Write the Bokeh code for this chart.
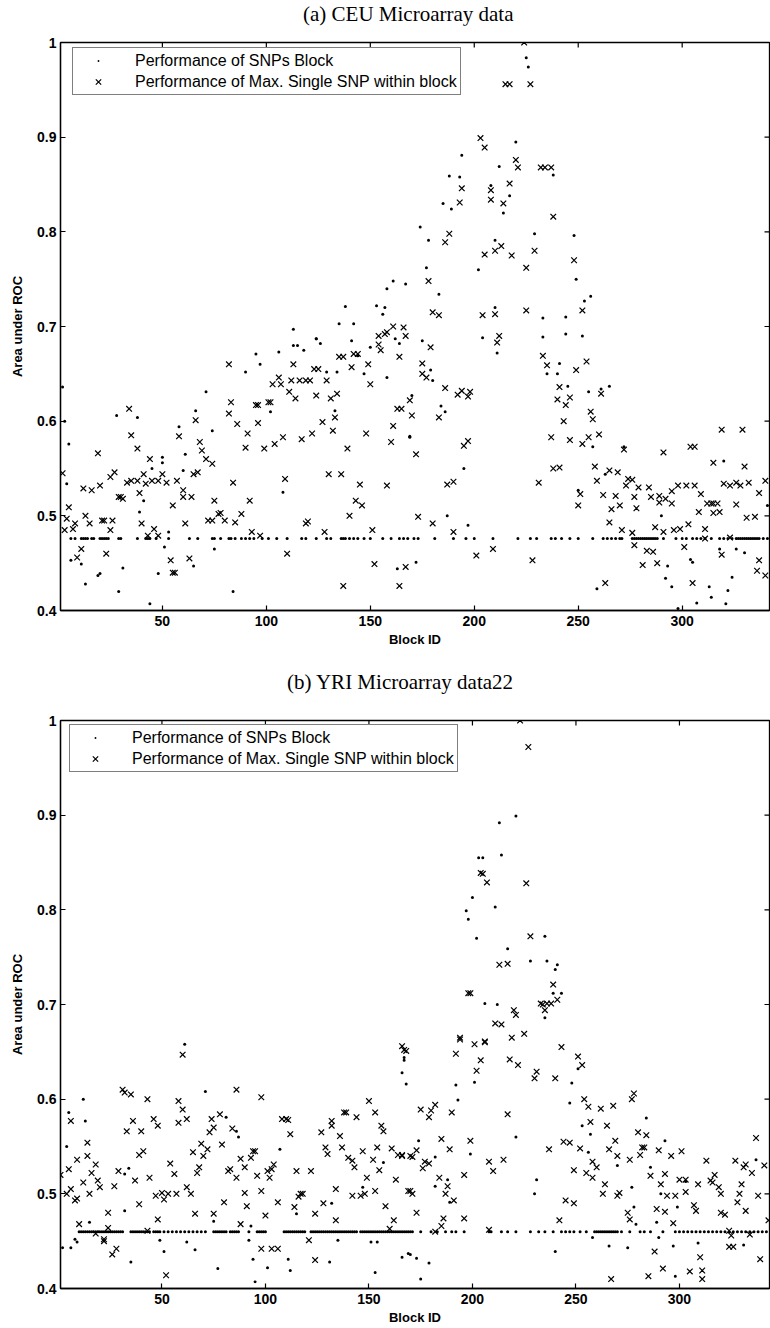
import math
from bokeh.plotting import figure
from bokeh.layouts import column
from bokeh.models import Range1d, FixedTicker, Legend, LegendItem, Div
from bokeh.embed import file_html
from bokeh.resources import INLINE

# ---------------- (a) CEU ----------------
ceu_block_ids = [2,3,5,4,6,11,13,19,20,29,31,44,48,65,84,28,38,39,41,45,50,50,51,53,58,60,61,66,71,74,75,
                 90,95,97,102,106,108,113,115,118,124,126,129,133,134,141,144,147,150,158,162,164,163,169,
                 113,124,135,138,142,153,157,156,158,161,167,
                 224,225,226,220,194,212,238,188,193,208,185,189,217,214,174,178,210,229,248,202,177,183,249,253,256,210,233,244,
                 175,204,211,233,244,252,179,180,170,184,186,241,235,240,245,255,261,265,169,195,187,197,172,257,250,263,
                 259,272,290,292,295,293,304,305,307,298,313,314,318,320,321,322,324,326,330,341]
ceu_block_auc = [0.636,0.60,0.576,0.534,0.453,0.449,0.428,0.437,0.439,0.42,0.445,0.407,0.439,0.447,0.42,0.606,0.604,0.504,0.516,0.55,0.562,0.556,0.467,0.483,0.594,0.548,0.565,0.611,0.631,0.59,0.465,
                 0.652,0.671,0.66,0.61,0.673,0.525,0.68,0.68,0.675,0.687,0.682,0.652,0.611,0.652,0.685,0.669,0.65,0.678,0.646,0.687,0.682,0.444,0.583,
                 0.697,0.687,0.703,0.721,0.703,0.722,0.72,0.713,0.74,0.748,0.745,
                 1.0,0.984,0.974,0.895,0.881,0.869,0.86,0.859,0.858,0.849,0.83,0.824,0.838,0.82,0.805,0.791,0.791,0.798,0.796,0.76,0.762,0.734,0.75,0.727,0.732,0.72,0.709,0.71,
                 0.685,0.688,0.672,0.689,0.692,0.69,0.654,0.643,0.627,0.616,0.61,0.661,0.65,0.65,0.637,0.631,0.634,0.637,0.584,0.55,0.50,0.49,0.451,0.573,0.527,0.544,
                 0.423,0.573,0.50,0.434,0.425,0.447,0.454,0.451,0.408,0.402,0.425,0.414,0.465,0.558,0.407,0.421,0.435,0.465,0.461,0.511]
ceu_base_ids = [6,8,11,12,13,14,16,17,20,21,22,23,24,29,30,38,42,43,44,47,53,63,67,74,75,78,82,83,85,88,90,92,94,98,101,
                105,110,117,119,124,129,131,136,137,138,140,142,144,147,150,156,160,164,166,168,171,173,181,190,196,200,209,
                221,227,230,237,239,242,246,250,257,262,264,266,268,270,271,276,277,278,279,280,281,282,283,284,285,286,287,288,
                291,297,300,302,305,307,309,311,314,318,320,322,324,326,327,328,329,330,331,332,333,334,335,336,337,339,341]
ceu_base_auc = 0.476

ceu_snp_ids = [2,5,4,3,7,8,9,11,12,13,15,16,19,20,21,22,23,25,25,26,27,29,30,31,33,35,34,35,38,38,39,40,41,42,43,44,45,46,48,48,
               50,52,54,55,56,55,57,58,60,60,61,63,64,66,65,67,68,69,71,74,75,72,74,77,78,80,82,84,83,82,86,85,88,90,91,92,93,95,96,96,97,
               99,101,102,103,104,106,107,108,109,110,111,113,112,114,116,117,119,119,120,121,122,123,125,124,127,128,129,130,131,132,133,
               134,135,136,137,137,139,140,141,142,144,143,145,146,148,149,150,151,152,154,154,155,157,158,160,161,163,164,164,167,
               158,161,167,
               224,215,217,227,203,205,220,221,232,234,237,194,208,217,193,208,214,238,186,188,205,210,213,218,229,248,225,178,180,183,204,210,225,252,166,212,
               179,175,175,177,186,192,194,197,198,169,165,170,183,172,195,197,187,190,173,180,190,201,209,211,233,235,249,254,241,240,246,244,243,256,257,261,
               237,246,252,255,260,231,238,241,250,251,258,259,262,265,269,268,266,270,265,272,274,276,273,277,278,279,284,285,291,271,276,277,283,286,281,288,
               287,291,289,289,292,295,295,298,302,306,309,296,299,303,301,304,306,308,312,314,315,315,318,317,311,311,319,315,319,329,330,320,323,326,328,332,
               340,326,323,331,335,337,337,336,340,305,263,228]
ceu_snp_auc = [0.545,0.509,0.497,0.485,0.486,0.492,0.456,0.465,0.529,0.50,0.492,0.527,0.566,0.532,0.495,0.495,0.46,0.485,0.541,0.495,0.546,0.52,0.52,0.518,0.535,0.537,0.613,0.585,0.537,0.571,0.524,0.492,0.544,0.534,0.479,0.56,0.537,0.486,0.537,0.479,
               0.544,0.535,0.453,0.44,0.44,0.511,0.537,0.584,0.527,0.52,0.492,0.455,0.52,0.601,0.544,0.546,0.578,0.569,0.56,0.555,0.516,0.495,0.495,0.502,0.503,0.495,0.66,0.535,0.62,0.608,0.597,0.493,0.502,0.572,0.587,0.516,0.483,0.617,0.617,0.598,0.479,
               0.571,0.62,0.62,0.639,0.576,0.646,0.639,0.583,0.539,0.46,0.631,0.66,0.643,0.624,0.643,0.581,0.643,0.492,0.494,0.643,0.587,0.655,0.655,0.627,0.599,0.483,0.643,0.544,0.624,0.59,0.604,
               0.629,0.668,0.544,0.426,0.668,0.571,0.50,0.657,0.671,0.671,0.516,0.533,0.511,0.587,0.66,0.639,0.485,0.449,0.681,0.69,0.675,0.692,0.532,0.578,0.595,0.613,0.668,0.426,0.446,
               0.694,0.70,0.69,
               1.0,0.956,0.956,0.956,0.899,0.889,0.876,0.868,0.868,0.868,0.868,0.846,0.844,0.851,0.831,0.834,0.83,0.816,0.789,0.798,0.776,0.78,0.785,0.775,0.78,0.77,0.762,0.748,0.715,0.712,0.712,0.713,0.717,0.717,0.699,0.69,
               0.678,0.661,0.65,0.646,0.635,0.628,0.632,0.626,0.631,0.622,0.613,0.606,0.604,0.565,0.574,0.579,0.533,0.536,0.499,0.492,0.483,0.458,0.465,0.683,0.669,0.659,0.654,0.663,0.636,0.623,0.625,0.617,0.60,0.61,0.602,0.629,
               0.583,0.58,0.576,0.583,0.586,0.535,0.55,0.551,0.511,0.523,0.552,0.537,0.522,0.548,0.546,0.521,0.507,0.511,0.493,0.57,0.539,0.538,0.532,0.52,0.508,0.53,0.53,0.52,0.567,0.485,0.482,0.469,0.463,0.462,0.448,0.45,
               0.488,0.483,0.514,0.521,0.518,0.513,0.526,0.532,0.532,0.532,0.523,0.485,0.486,0.491,0.467,0.573,0.573,0.504,0.513,0.513,0.513,0.503,0.504,0.513,0.486,0.476,0.459,0.556,0.591,0.591,0.552,0.534,0.532,0.535,0.532,0.535,
               0.537,0.512,0.477,0.498,0.499,0.524,0.453,0.442,0.437,0.429,0.429,0.453]

# ---------------- (b) YRI ----------------
yri_block_ids = [2,4,5,6,8,9,12,13,15,32,32,34,35,49,51,62,66,71,75,77,81,86,87,92,93,94,95,101,107,111,112,115,131,132,135,147,151,153,154,157,166,166,167,168,170,61,
                 167,192,193,201,221,248,247,251,253,257,256,270,284,293,286,277,278,279,275,266,258,199,174,182,182,188,189,169,173,179,175,240,231,230,290,297,298,289,291,299,303,309,331,337,
                 223,221,213,203,205,214,200,197,198,211,202,235,217,228,236,241,240,206,212,239,243,235]
yri_block_auc = [0.443,0.55,0.586,0.443,0.452,0.449,0.60,0.577,0.47,0.482,0.521,0.527,0.428,0.451,0.439,0.449,0.441,0.608,0.471,0.421,0.581,0.566,0.56,0.451,0.466,0.431,0.407,0.422,0.547,0.431,0.419,0.479,0.428,0.49,0.451,0.507,0.449,0.417,0.449,0.533,0.433,0.628,0.641,0.616,0.436,0.658,
                 0.644,0.615,0.599,0.618,0.56,0.617,0.596,0.632,0.572,0.563,0.544,0.53,0.58,0.556,0.528,0.507,0.486,0.468,0.443,0.445,0.454,0.542,0.556,0.539,0.508,0.515,0.491,0.437,0.432,0.427,0.41,0.439,0.515,0.50,0.454,0.445,0.413,0.47,0.50,0.486,0.513,0.448,0.446,0.536,
                 1.0,0.899,0.892,0.855,0.855,0.858,0.813,0.799,0.79,0.803,0.77,0.772,0.759,0.746,0.746,0.742,0.737,0.701,0.70,0.712,0.712,0.686]
yri_base_ids = [10,11,12,13,14,15,16,17,18,19,20,21,22,23,24,25,26,27,28,29,30,31,35,36,37,38,39,40,41,42,43,44,46,47,48,49,
                51,53,55,57,59,61,63,65,67,69,71,75,76,77,78,79,80,81,83,84,85,86,87,92,96,97,98,99,100,
                109,110,111,112,113,114,115,116,117,118,119,122,123,124,125,126,127,128,129,130,131,132,133,134,135,136,137,138,139,
                140,141,142,143,144,146,147,148,149,150,151,152,153,154,155,156,157,158,159,160,161,162,163,164,165,166,167,168,169,170,
                171,175,180,183,187,190,192,196,208,209,214,217,221,228,232,235,239,243,245,247,249,252,255,
                259,260,261,262,263,264,265,266,267,268,269,270,272,276,281,283,286,292,
                298,300,302,304,306,308,310,312,314,316,318,320,322,324,326,328,330,332,334,336,338,340,342]
yri_base_auc = 0.46

yri_snp_ids = [1,4,5,6,6,8,9,10,9,12,14,14,15,16,18,18,19,20,22,22,24,24,26,28,27,29,31,32,33,35,36,37,39,39,41,40,43,43,44,46,47,48,48,50,51,52,53,54,56,57,58,58,60,60,
               62,62,64,65,66,67,68,69,70,72,73,74,75,75,78,79,80,82,83,84,86,86,88,88,90,91,90,93,94,95,96,98,98,100,101,102,103,104,98,103,106,106,108,110,111,112,
               114,115,116,118,117,121,122,124,124,128,127,129,130,132,132,134,134,136,137,138,139,140,142,142,143,144,147,146,148,149,150,152,153,153,154,155,156,157,
               158,160,161,162,163,164,166,166,167,170,170,
               168,192,194,201,206,204,202,219,225,218,222,230,231,240,243,251,253,175,179,180,182,190,217,254,256,257,262,268,265,277,278,185,189,199,166,171,173,177,179,
               176,184,188,187,191,196,169,171,173,186,185,182,196,208,210,215,208,237,244,247,252,249,255,258,260,258,245,249,242,264,263,266,269,270,271,270,276,275,276,
               280,282,283,281,284,286,289,291,293,294,293,290,296,298,297,301,300,303,303,288,285,292,305,311,311,310,267,307,308,309,313,316,315,317,319,320,322,320,
               324,325,324,326,327,330,329,328,332,331,332,335,334,337,338,339,341,343,
               223,227,204,205,207,226,228,213,217,239,198,199,220,221,233,234,236,238,241,235,211,214,194,206]
yri_snp_auc = [0.52,0.50,0.526,0.577,0.505,0.493,0.495,0.468,0.536,0.512,0.54,0.554,0.50,0.522,0.458,0.531,0.514,0.507,0.452,0.45,0.48,0.464,0.436,0.442,0.508,0.524,0.61,0.607,0.566,0.605,0.577,0.514,0.541,0.489,0.545,0.566,0.60,0.461,0.517,0.579,0.498,0.572,0.473,0.501,0.494,0.414,0.50,0.532,0.521,0.50,0.575,0.598,0.589,0.647,
               0.579,0.507,0.50,0.544,0.479,0.522,0.528,0.553,0.54,0.547,0.565,0.579,0.57,0.479,0.584,0.552,0.491,0.524,0.526,0.569,0.61,0.517,0.468,0.537,0.501,0.487,0.528,0.538,0.545,0.545,0.519,0.602,0.503,0.477,0.524,0.517,0.526,0.531,0.442,0.442,0.442,0.491,0.579,0.579,0.578,0.563,
               0.486,0.524,0.497,0.50,0.50,0.451,0.524,0.43,0.479,0.49,0.565,0.549,0.542,0.577,0.572,0.505,0.472,0.561,0.549,0.586,0.586,0.538,0.535,0.498,0.528,0.581,0.545,0.498,0.50,0.517,0.598,0.536,0.503,0.586,0.549,0.525,0.572,0.566,
               0.487,0.463,0.548,0.472,0.515,0.541,0.541,0.656,0.652,0.503,0.54,
               0.651,0.648,0.663,0.658,0.66,0.641,0.63,0.665,0.669,0.642,0.636,0.622,0.629,0.622,0.655,0.645,0.636,0.589,0.581,0.588,0.594,0.586,0.584,0.60,0.592,0.576,0.59,0.593,0.572,0.60,0.606,0.558,0.547,0.556,0.54,0.539,0.546,0.534,0.532,
               0.527,0.517,0.508,0.50,0.493,0.52,0.503,0.50,0.48,0.474,0.466,0.46,0.474,0.534,0.524,0.536,0.462,0.547,0.555,0.554,0.548,0.525,0.522,0.517,0.528,0.534,0.493,0.49,0.472,0.51,0.50,0.547,0.556,0.54,0.501,0.498,0.536,0.48,0.473,
               0.565,0.549,0.549,0.541,0.562,0.519,0.484,0.51,0.481,0.498,0.521,0.546,0.54,0.498,0.469,0.545,0.515,0.502,0.515,0.439,0.413,0.421,0.418,0.419,0.41,0.433,0.41,0.488,0.482,0.51,0.535,0.512,0.514,0.52,0.507,0.50,0.478,0.48,
               0.461,0.456,0.444,0.444,0.535,0.51,0.50,0.491,0.482,0.528,0.531,0.522,0.457,0.559,0.498,0.431,0.53,0.472,
               1.0,0.972,0.839,0.838,0.829,0.828,0.772,0.742,0.743,0.721,0.712,0.712,0.694,0.689,0.701,0.70,0.701,0.701,0.705,0.694,0.68,0.679,0.665,0.661]

x_ticks = [50, 100, 150, 200, 250, 300]
y_ticks = [0.4, 0.5, 0.6, 0.7, 0.8, 0.9, 1.0]
y_labels = {0.4: "0.4", 0.5: "0.5", 0.6: "0.6", 0.7: "0.7", 0.8: "0.8", 0.9: "0.9", 1.0: "1"}
legend_labels = ["Performance of SNPs Block", "Performance of Max. Single SNP within block"]
titles = ["(a) CEU Microarray data", "(b) YRI Microarray data22"]

SANS = "Liberation Sans"
SERIF = "Liberation Serif"


def caption(text, height, pad_left, pad_top):
    return Div(text=text, width=770, height=height, margin=(0, 0, 0, 0),
               styles={"font-family": SERIF, "font-size": "21px", "line-height": "21px",
                       "color": "black", "padding-left": f"{pad_left}px", "padding-top": f"{pad_top}px",
                       "box-sizing": "border-box", "white-space": "nowrap"})


def make_panel(blk_x, blk_y, base_ids, base_val, snp_x, snp_y,
               xmax, left, top, bottom, fig_h, leg_x, leg_y):
    p = figure(width=770, height=fig_h, output_backend="svg", toolbar_location=None,
               x_range=Range1d(1, xmax), y_range=Range1d(0.4, 1.0),
               min_border_left=left, min_border_right=1, min_border_top=top,
               min_border_bottom=bottom, background_fill_color="white",
               border_fill_color="white", outline_line_color="black", outline_line_width=1.3,
               margin=(0, 0, 0, 0))
    p.grid.visible = False

    xs = list(blk_x) + list(base_ids)
    ys = list(blk_y) + [base_val] * len(base_ids)
    r_dot = p.scatter(xs, ys, marker="dot", size=12, line_color="black", fill_color="black")
    r_x = p.scatter(snp_x, snp_y, marker="x", size=8, line_color="black", line_width=1.2)

    # inward ticks on the top and right frame edges (MATLAB box style)
    p.ray(x=x_ticks, y=[1.0] * len(x_ticks), length=5, length_units="screen",
          angle=-math.pi / 2, line_color="black", line_width=1.2)
    p.ray(x=[xmax] * len(y_ticks), y=y_ticks, length=5, length_units="screen",
          angle=math.pi, line_color="black", line_width=1.2)

    for ax in list(p.xaxis) + list(p.yaxis):
        ax.axis_line_color = "black"
        ax.axis_line_width = 1.3
        ax.major_tick_line_color = "black"
        ax.major_tick_line_width = 1.2
        ax.major_tick_in = 5
        ax.major_tick_out = 0
        ax.minor_tick_line_color = None
        ax.major_label_text_font = SANS
        ax.major_label_text_font_style = "bold"
        ax.major_label_text_font_size = "14px"
        ax.major_label_text_color = "black"
        ax.axis_label_text_font = SANS
        ax.axis_label_text_font_size = "13px"
        ax.axis_label_text_font_style = "bold"
        ax.axis_label_text_color = "black"
    p.xaxis.ticker = FixedTicker(ticks=x_ticks)
    p.yaxis.ticker = FixedTicker(ticks=y_ticks)
    p.yaxis.major_label_overrides = y_labels
    p.xaxis.axis_label = "Block ID"
    p.yaxis.axis_label = "Area under ROC"
    p.xaxis.major_label_standoff = 5
    p.xaxis.axis_label_standoff = 3
    p.yaxis.major_label_standoff = 4
    p.yaxis.axis_label_standoff = 9

    legend = Legend(items=[LegendItem(label=legend_labels[0], renderers=[r_dot]),
                           LegendItem(label=legend_labels[1], renderers=[r_x])],
                    location=(leg_x, leg_y), padding=3, spacing=2, glyph_width=44, glyph_height=19,
                    label_height=19, label_standoff=15, margin=0,
                    label_text_font=SANS, label_text_font_size="16px", label_text_color="black",
                    border_line_color="black", border_line_width=1,
                    background_fill_color="white", background_fill_alpha=1)
    p.add_layout(legend)
    return p


# page rows: caption a (0-25), panel a (25-664, frame 42..610), caption b (664-697), panel b (697-1328, frame 720..1288)
cap1 = caption(titles[0], 25, 303, 4)
p1 = make_panel(ceu_block_ids, ceu_block_auc, ceu_base_ids, ceu_base_auc,
                ceu_snp_ids, ceu_snp_auc, 342, 60, 17, 54, 639, 12, 515)
cap2 = caption(titles[1], 33, 287, 8)
p2 = make_panel(yri_block_ids, yri_block_auc, yri_base_ids, yri_base_auc,
                yri_snp_ids, yri_snp_auc, 343.5, 58, 23, 40, 631, 9, 516)

layout = column(cap1, p1, cap2, p2, spacing=0)
open("out.html", "w").write(file_html(layout, INLINE))
